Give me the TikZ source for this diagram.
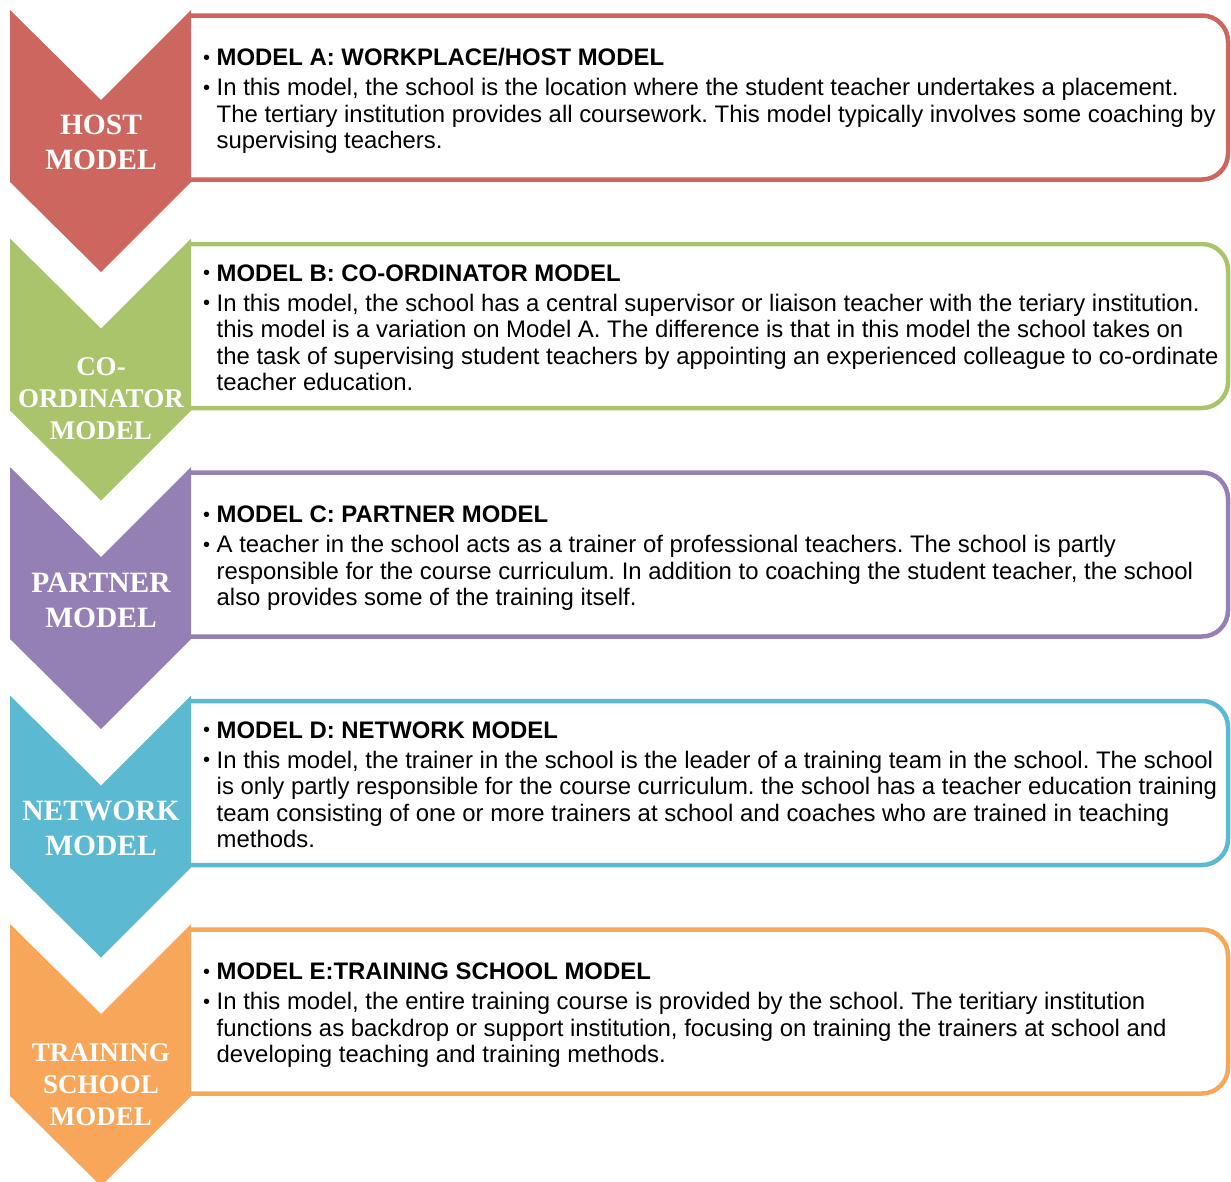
\documentclass[tikz,border=0pt]{standalone}
\usepackage{fontspec}
\setmainfont{Liberation Sans}
\newfontfamily\labelfont{Liberation Serif}
\usetikzlibrary{math}
\definecolor{hostred}{RGB}{206,102,96}
\definecolor{coordgreen}{RGB}{169,196,107}
\definecolor{partnerpurple}{RGB}{149,128,181}
\definecolor{networkblue}{RGB}{91,185,210}
\definecolor{schoolorange}{RGB}{248,167,90}
\frenchspacing
\newcommand{\bul}{\makebox[13.5pt][l]{\raisebox{1.5pt}{\fontsize{20}{20}\selectfont\textbullet}}}
\tikzset{
    modelbox/.style={draw=#1, line width=4.5pt, rounded corners=26pt},
    chevlabel/.style={text=white, inner sep=0pt, align=center, font=\labelfont\bfseries\fontsize{29.5}{35}\selectfont},
    chevlabelsm/.style={chevlabel, font=\labelfont\bfseries\fontsize{27}{32}\selectfont},
    modeltext/.style={anchor=west, inner sep=0pt, font=\fontsize{23.9}{26.5}\selectfont}
}

\begin{document}
\begin{tikzpicture}[x=1pt,y=-1pt]
            \useasboundingbox (0,0) rectangle (1231,1181);
            \foreach \i/\col in {0/hostred,1/coordgreen,2/partnerpurple,3/networkblue,4/schoolorange}{
                \tikzmath{
                    \dy = 228.5 * \i;
                }
                \draw[modelbox=\col] (191,15.5+\dy) -- (1228,15.5+\dy) -- (1228,179.5+\dy) -- (191,179.5+\dy);
                \fill[\col] (10,10+\dy) -- (101,100+\dy) -- (191,10+\dy) -- (191,182+\dy) -- (101,272+\dy) -- (10,182+\dy) -- cycle;
            }

            \node[chevlabel] (host) at (101,142.5) {HOST\\MODEL};
            \node[chevlabelsm] (coordinator) at (101,399) {CO-\\ORDINATOR\\MODEL};
            \node[chevlabel] (partner) at (101,600) {PARTNER\\MODEL};
            \node[chevlabel] (network) at (101,828) {NETWORK\\MODEL};
            \node[chevlabelsm] (trainingschool) at (101,1085) {TRAINING\\SCHOOL\\MODEL};

            \node[modeltext] (modelA) at (203,102) {\begin{tabular}{@{}l@{}l@{}}
                \bul & \textbf{MODEL A: WORKPLACE/HOST MODEL}\\[3.5pt]
                \bul & In this model, the school is the location where the student teacher undertakes a placement.\\
                & The tertiary institution provides all coursework. This model typically involves some coaching by\\
                & supervising teachers.
            \end{tabular}};
            \node[modeltext] (modelB) at (203,330.5) {\begin{tabular}{@{}l@{}l@{}}
                \bul & \textbf{MODEL B: CO-ORDINATOR MODEL}\\[3.5pt]
                \bul & In this model, the school has a central supervisor or liaison teacher with the teriary institution.\\
                & this model is a variation on Model A. The difference is that in this model the school takes on\\
                & the task of supervising student teachers by appointing an experienced colleague to co-ordinate\\
                & teacher education.
            \end{tabular}};
            \node[modeltext] (modelC) at (203,559) {\begin{tabular}{@{}l@{}l@{}}
                \bul & \textbf{MODEL C: PARTNER MODEL}\\[3.5pt]
                \bul & A teacher in the school acts as a trainer of professional teachers. The school is partly\\
                & responsible for the course curriculum. In addition to coaching the student teacher, the school\\
                & also provides some of the training itself.
            \end{tabular}};
            \node[modeltext] (modelD) at (203,787.5) {\begin{tabular}{@{}l@{}l@{}}
                \bul & \textbf{MODEL D: NETWORK MODEL}\\[3.5pt]
                \bul & In this model, the trainer in the school is the leader of a training team in the school. The school\\
                & is only partly responsible for the course curriculum. the school has a teacher education training\\
                & team consisting of one or more trainers at school and coaches who are trained in teaching\\
                & methods.
            \end{tabular}};
            \node[modeltext] (modelE) at (203,1016) {\begin{tabular}{@{}l@{}l@{}}
                \bul & \textbf{MODEL E:TRAINING SCHOOL MODEL}\\[3.5pt]
                \bul & In this model, the entire training course is provided by the school. The teritiary institution\\
                & functions as backdrop or support institution, focusing on training the trainers at school and\\
                & developing teaching and training methods.
            \end{tabular}};
        \end{tikzpicture}
\end{document}
